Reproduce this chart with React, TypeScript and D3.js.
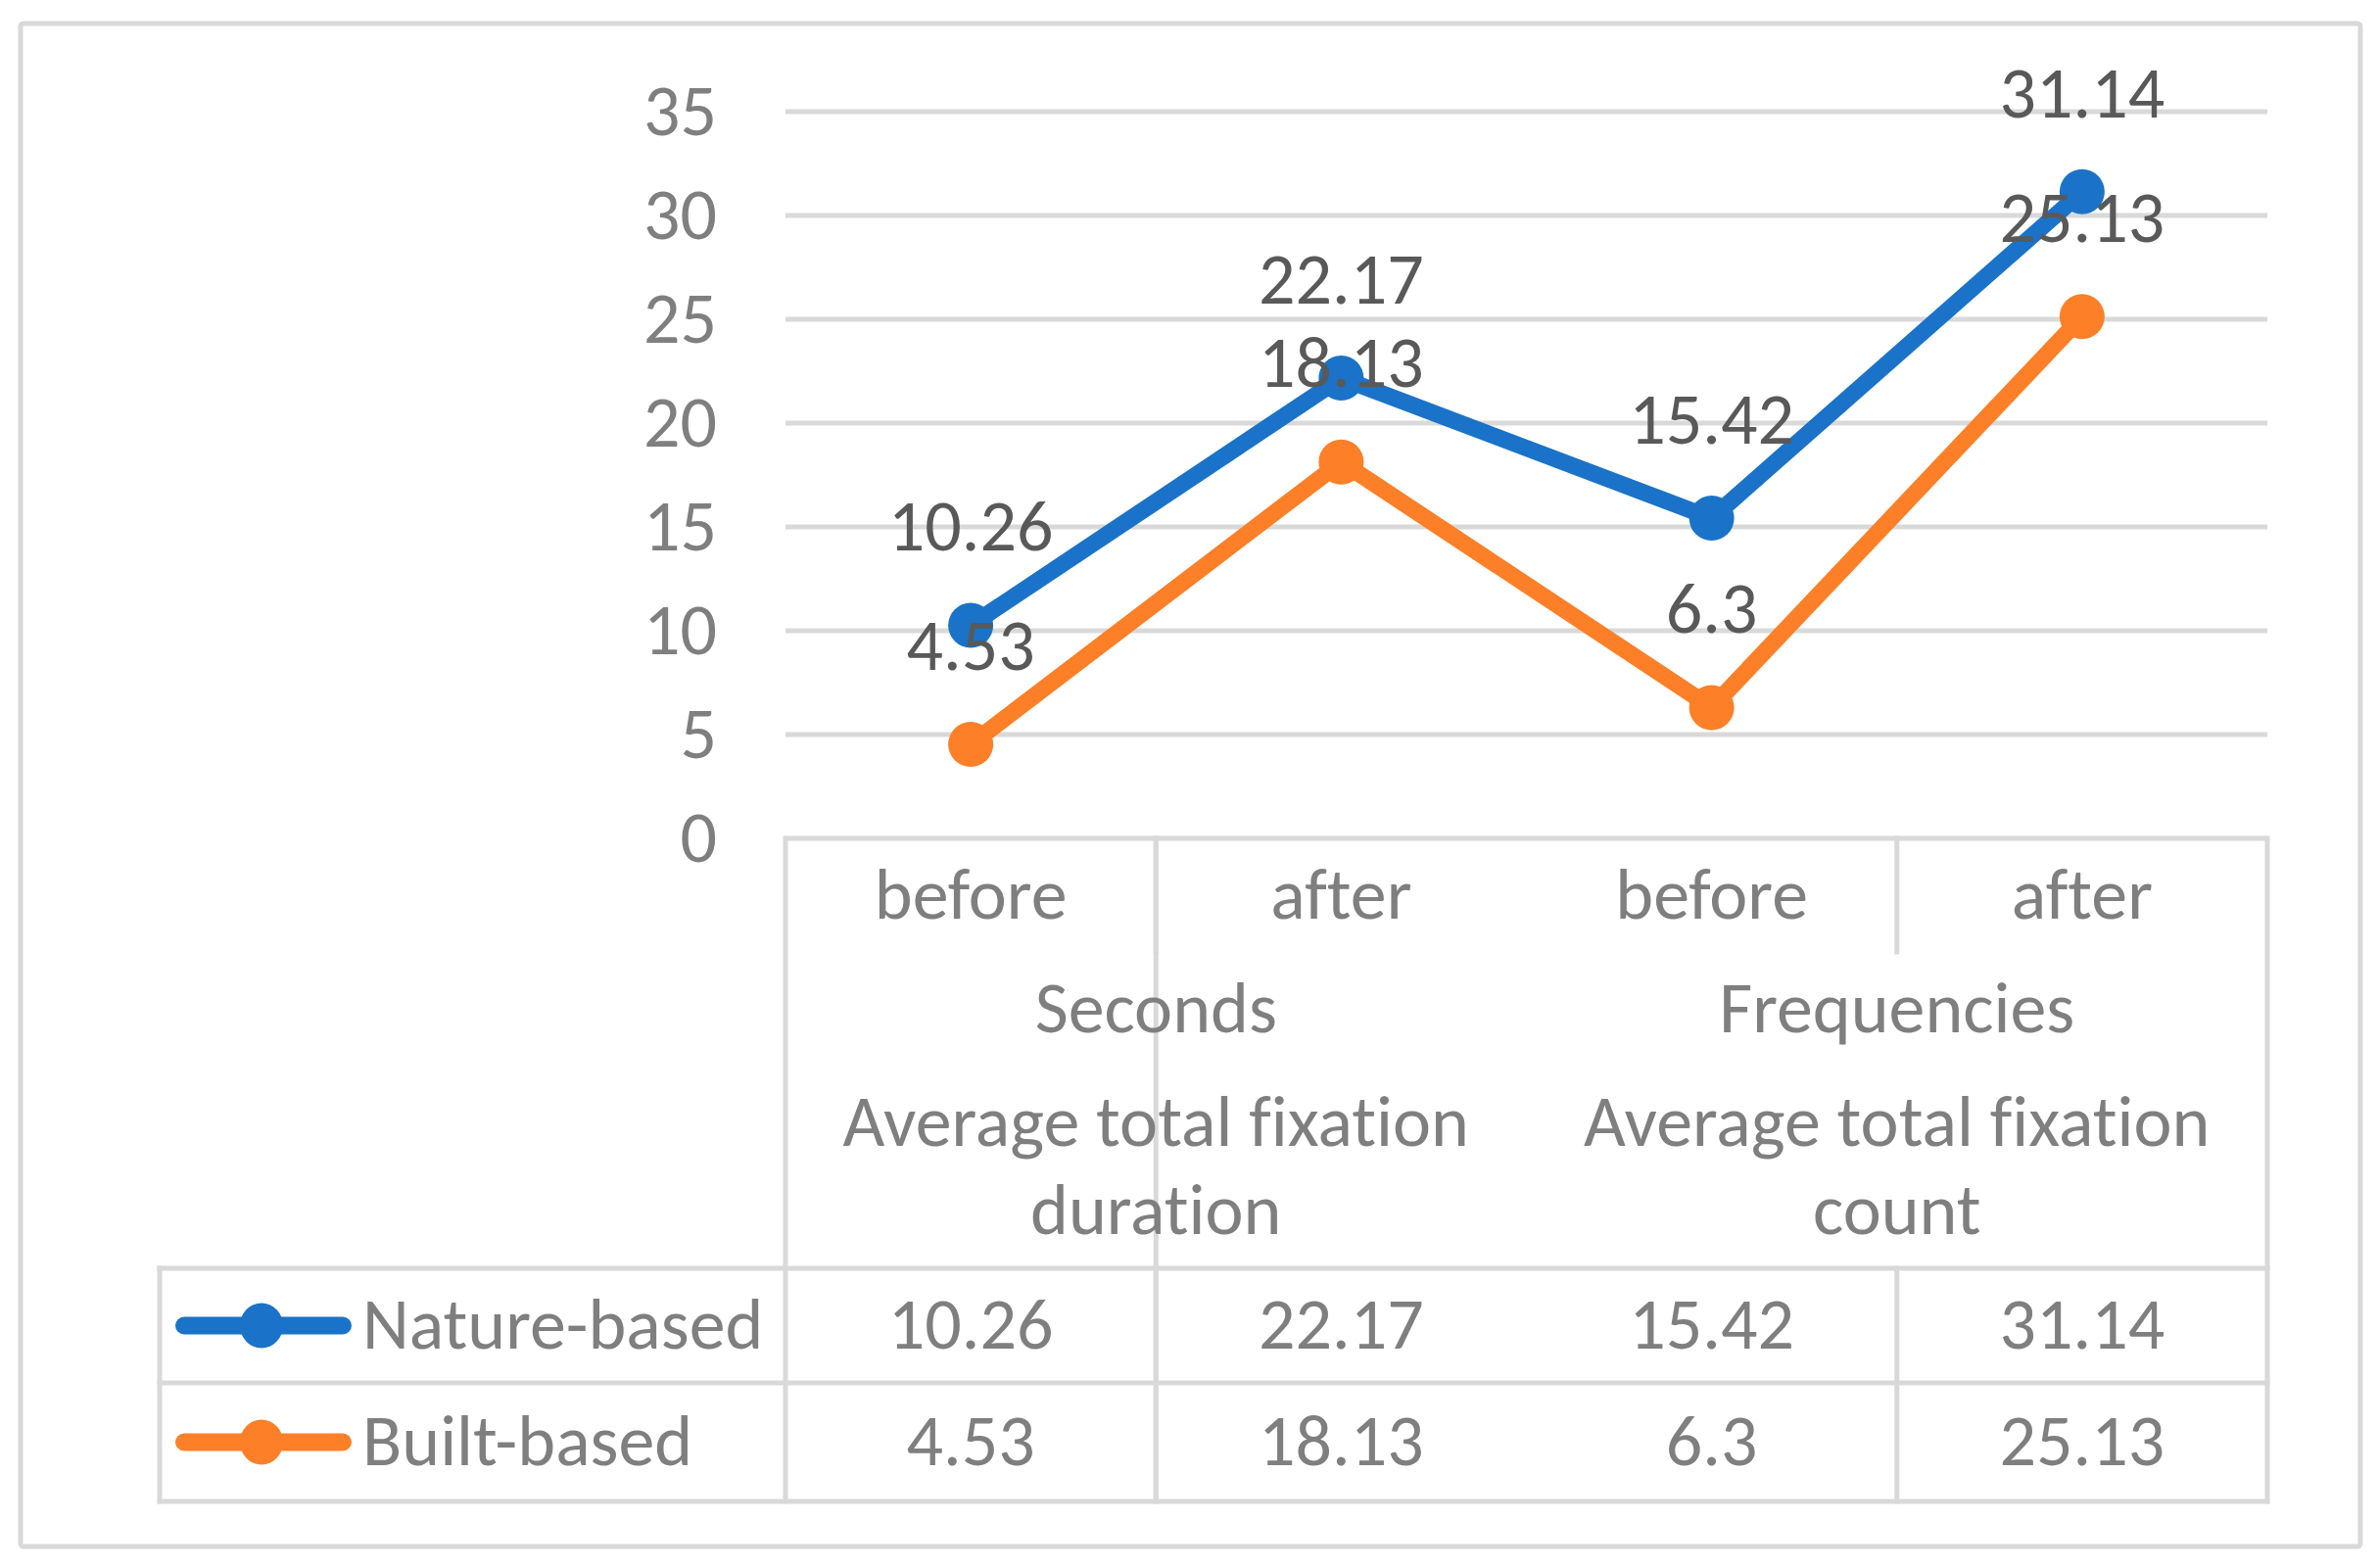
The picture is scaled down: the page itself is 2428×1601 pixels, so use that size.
import React from "react";
import * as d3 from "d3";

const categories = ["before", "after", "before", "after"];
const groupLabels = ["Seconds", "Frequencies"];
const groupSubLines = [
  ["Average total fixation", "duration"],
  ["Average total fixation", "count"],
];
const seriesNames = ["Nature-based", "Built-based"];
const natureValues = [10.26, 22.17, 15.42, 31.14];
const builtValues = [4.53, 18.13, 6.3, 25.13];
const yTicks = [0, 5, 10, 15, 20, 25, 30, 35];
const seriesColors = ["#1a73c8", "#fd7f27"];

const W = 2428;
const H = 1601;
const FONT = "Carlito, Calibri, 'Liberation Sans Narrow', 'DejaVu Sans Condensed', sans-serif";
const FS = 74;
const DY = "0.32em";
const GRID = "#d9d9d9";
const TXT = "#7f7f7f";
const LBL = "#595959";

export default function App() {
  const plotL = 802, plotR = 2315, plotT = 114, plotB = 856;
  const x = d3.scaleBand<number>().domain(categories.map((_, i) => i)).range([plotL, plotR]).padding(0);
  const y = d3.scaleLinear().domain([0, 35]).range([plotB, plotT]);
  const bw = x.bandwidth();
  const cx = (i: number) => (x(i) as number) + bw / 2;
  const series = [natureValues, builtValues];
  const line = d3.line<number>().x((_, i) => cx(i)).y((v) => y(v));

  const tableL = 163;
  const rowTop = 1295, rowMid = 1412, rowBot = 1533;
  const headerDivEnd = 972;
  const rowCenters = [(rowTop + rowMid) / 2, (rowMid + rowBot) / 2];
  const groupX = (g: number) => (x(g * 2) as number) + bw;

  return (
    <div style={{ position: "absolute", left: 0, top: 0, width: W, height: H, background: "#fff" }}>
      <svg width={W} height={H} style={{ display: "block", fontFamily: FONT, fontVariantLigatures: "none" }}>
        <rect x={0} y={0} width={W} height={H} fill="#fff" />
        <rect x={21} y={24} width={2389} height={1555} fill="none" stroke={GRID} strokeWidth={5} rx={3} />

        {/* gridlines */}
        {yTicks.map((t) => (
          <line key={"g" + t} x1={plotL} x2={plotR} y1={y(t)} y2={y(t)} stroke={GRID} strokeWidth={5} />
        ))}
        {/* y tick labels */}
        {yTicks.map((t) => (
          <text key={"t" + t} x={732} y={y(t)} dy={DY} textAnchor="end" fontSize={FS} fill={TXT}>
            {t}
          </text>
        ))}

        {/* table lines */}
        <g stroke={GRID} strokeWidth={5} strokeLinecap="square">
          <line x1={plotL} x2={plotL} y1={plotB} y2={rowBot} />
          <line x1={plotR} x2={plotR} y1={plotB} y2={rowBot} />
          <line x1={groupX(0)} x2={groupX(0)} y1={plotB} y2={rowBot} />
          {[0, 2].map((i) => (
            <g key={"d" + i}>
              <line x1={(x(i) as number) + bw} x2={(x(i) as number) + bw} y1={plotB} y2={headerDivEnd} />
              <line x1={(x(i) as number) + bw} x2={(x(i) as number) + bw} y1={rowTop} y2={rowBot} />
            </g>
          ))}
          <line x1={tableL} x2={plotR} y1={rowTop} y2={rowTop} />
          <line x1={tableL} x2={plotR} y1={rowMid} y2={rowMid} />
          <line x1={tableL} x2={plotR} y1={rowBot} y2={rowBot} />
          <line x1={tableL} x2={tableL} y1={rowTop} y2={rowBot} />
        </g>

        {/* category labels */}
        {categories.map((c, i) => (
          <text key={"c" + i} x={cx(i)} y={914} dy={DY} textAnchor="middle" fontSize={FS} fill={TXT}>
            {c}
          </text>
        ))}
        {groupLabels.map((g, gi) => {
          const gx = (x(gi * 2) as number) + bw;
          return (
            <g key={"grp" + gi}>
              <text x={gx} y={1030} dy={DY} textAnchor="middle" fontSize={FS} fill={TXT}>{g}</text>
              {groupSubLines[gi].map((s, si) => (
                <text key={si} x={gx} y={1146 + si * 90} dy={DY} textAnchor="middle" fontSize={FS} fill={TXT}>{s}</text>
              ))}
            </g>
          );
        })}

        {/* series lines, markers */}
        {series.map((vals, si) => (
          <g key={"s" + si}>
            <path d={line(vals) || ""} fill="none" stroke={seriesColors[si]} strokeWidth={17} strokeLinejoin="round" strokeLinecap="round" />
            {vals.map((v, i) => (
              <circle key={i} cx={cx(i)} cy={y(v)} r={23} fill={seriesColors[si]} />
            ))}
          </g>
        ))}
        {/* data labels */}
        {series.map((vals, si) =>
          vals.map((v, i) => (
            <text key={"l" + si + i} x={cx(i)} y={y(v) - 100} dy={DY} textAnchor="middle" fontSize={FS} fill={LBL}>
              {v}
            </text>
          ))
        )}

        {/* data table rows */}
        {series.map((vals, si) => (
          <g key={"r" + si}>
            <line x1={188} x2={350} y1={rowCenters[si]} y2={rowCenters[si]} stroke={seriesColors[si]} strokeWidth={18} strokeLinecap="round" />
            <ellipse cx={267} cy={rowCenters[si]} rx={22} ry={23} fill={seriesColors[si]} />
            <text x={370} y={rowCenters[si]} dy={DY} fontSize={FS} fill={TXT}>{seriesNames[si]}</text>
            {vals.map((v, i) => (
              <text key={i} x={cx(i)} y={rowCenters[si]} dy={DY} textAnchor="middle" fontSize={FS} fill={TXT}>{v}</text>
            ))}
          </g>
        ))}
      </svg>
    </div>
  );
}
